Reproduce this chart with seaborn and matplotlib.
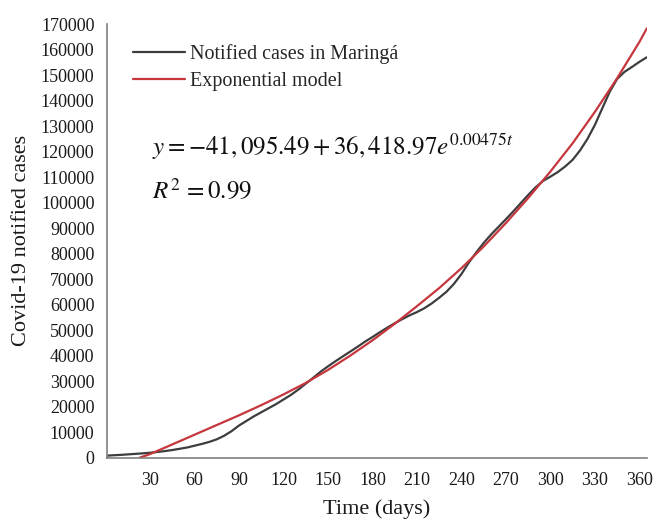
import matplotlib
matplotlib.use("Agg")
import matplotlib.pyplot as plt
import seaborn as sns
import pandas as pd
from matplotlib.lines import Line2D

# ---- data ----
days = [1, 5, 10, 15, 20, 25, 30, 35, 40, 45, 50, 55, 60, 65, 70, 75, 80, 85, 90, 95,
        100, 105, 110, 115, 120, 125, 130, 135, 140, 145, 150, 155, 160, 165, 170, 175,
        180, 185, 190, 195, 200, 205, 210, 215, 220, 225, 230, 235, 240, 245, 250, 255,
        260, 265, 270, 275, 280, 285, 290, 295, 300, 305, 310, 315, 320, 325, 330, 335,
        340, 345, 350, 355, 360, 365]
cases = [800, 950, 1100, 1300, 1500, 1700, 1950, 2250, 2600, 3000, 3500, 4000, 4700,
         5400, 6200, 7200, 8600, 10400, 12600, 14400, 16200, 17800, 19400, 21000, 22800,
         24600, 26700, 29000, 31300, 33700, 35800, 37800, 39700, 41600, 43500, 45500,
         47300, 49200, 51000, 52700, 54300, 55800, 57100, 58600, 60500, 62700, 65100,
         68200, 72000, 76500, 80500, 84200, 87500, 90500, 93500, 96600, 99800, 103000,
         106000, 108500, 110200, 112000, 114200, 116800, 120500, 125000, 130500, 137000,
         143500, 148500, 151300, 153200, 155200, 157000]

model_days = [23, 30, 45, 60, 75, 90, 105, 120, 135, 150, 165, 180, 195, 210, 225, 240,
              255, 270, 285, 300, 315, 330, 345, 360, 365]
model_cases = [0, 1400, 5200, 9000, 12800, 16600, 20600, 24800, 29300, 34400, 40000,
               46000, 52500, 59400, 66500, 74300, 82800, 92000, 101800, 112200, 123300,
               135600, 148800, 163000, 168300]

x_ticks = [30, 60, 90, 120, 150, 180, 210, 240, 270, 300, 330, 360]
y_ticks = list(range(0, 170001, 10000))

label_data = "Notified cases in Maringá"
label_model = "Exponential model"
x_label = "Time (days)"
y_label = "Covid-19 notified cases"
eq_text = r"$y=-41,095.49+36,418.97e^{0.00475t}$"
r2_text = r"$R^2\,=0.99$"

gray = "#3d3d3d"
red = "#c6363d"
axis_col = "#7f7f7f"

sns.set_theme(style="white")
plt.rcParams["font.family"] = ["Liberation Serif", "DejaVu Serif"]
plt.rcParams["mathtext.fontset"] = "stix"

df_data = pd.DataFrame({"t": days, "cases": cases})
df_model = pd.DataFrame({"t": model_days, "cases": model_cases})

fig = plt.figure(figsize=(6.56, 5.24), dpi=100)
ax = fig.add_axes([0.163, 0.1265, 0.823, 0.8275])

sns.lineplot(data=df_data, x="t", y="cases", ax=ax, color=gray, linewidth=1.6)
sns.lineplot(data=df_model, x="t", y="cases", ax=ax, color=red, linewidth=1.6)

ax.set_xlim(1, 365)
ax.set_ylim(0, 170000)
ax.set_xticks(x_ticks)
ax.set_yticks(y_ticks)
ax.set_xticklabels([str(v) for v in x_ticks])
ax.set_yticklabels([str(v) for v in y_ticks])
ax.tick_params(axis="both", direction="out", length=7, width=1, color=axis_col,
               labelsize=13, labelcolor="#1a1a1a", pad=2)
ax.tick_params(axis="x", pad=3)
for s in ["top", "right"]:
    ax.spines[s].set_visible(False)
for s in ["left", "bottom"]:
    ax.spines[s].set_color(axis_col)
    ax.spines[s].set_linewidth(1.2)

ax.set_xlabel(x_label, fontsize=16, color="#1a1a1a", labelpad=8)
ax.set_ylabel(y_label, fontsize=16, color="#1a1a1a", labelpad=7)
ax.grid(False)

handles = [Line2D([], [], color=gray, linewidth=1.6),
           Line2D([], [], color=red, linewidth=1.6)]
ax.legend(handles, [label_data, label_model], loc="upper left",
          bbox_to_anchor=(0.033, 0.973), frameon=False, fontsize=14.5,
          handlelength=2.6, handletextpad=0.25, labelspacing=0.4, borderaxespad=0)

fig.text(0.232, 0.72, eq_text, fontsize=18, va="center", ha="left", color="#111111")
fig.text(0.232, 0.636, r2_text, fontsize=18, va="center", ha="left", color="#111111")

fig.savefig("out.png", dpi=100)
